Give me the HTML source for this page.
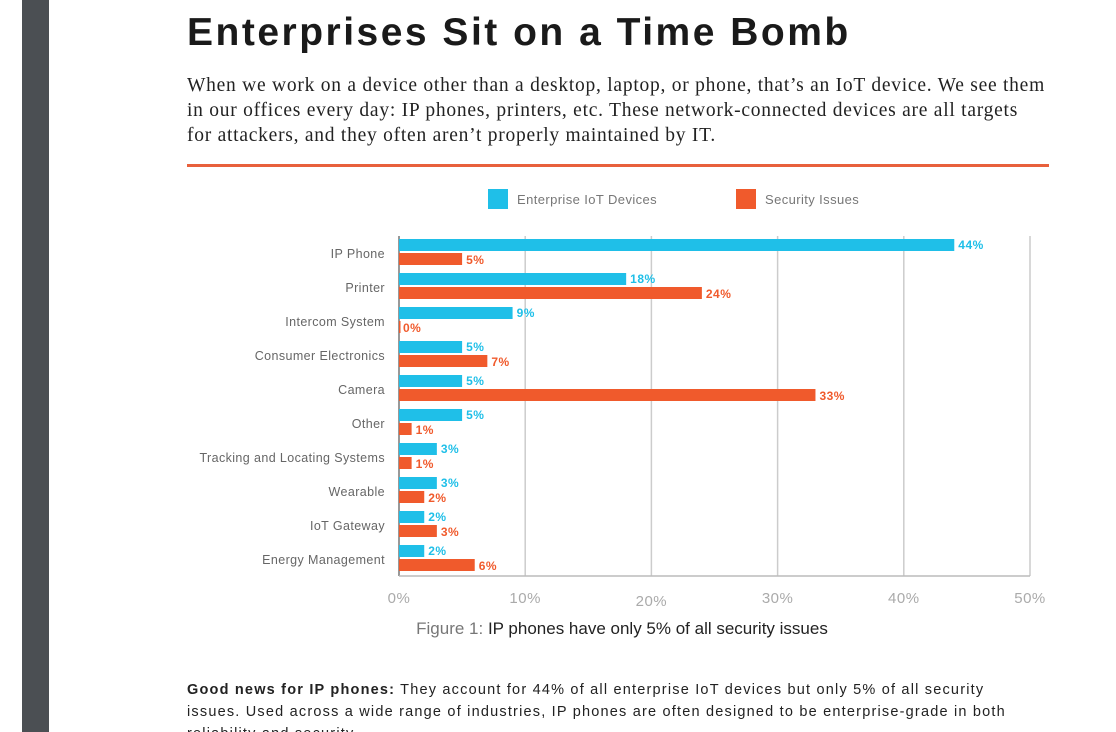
<!DOCTYPE html>
<html style="overflow:hidden;height:732px"><head><meta charset="utf-8"><style>
body{margin:0;width:1116px;height:732px;overflow:hidden;background:#fff;position:relative;font-family:"Liberation Sans",sans-serif}
.strip{position:absolute;left:22px;top:0;width:27px;height:732px;background:#4b4f53}
h1{position:absolute;left:187px;top:11px;margin:0;font-size:39px;font-weight:bold;color:#1a1a1a;letter-spacing:2.5px;white-space:nowrap}
.intro{position:absolute;left:187px;top:73px;font-family:"Liberation Serif",serif;font-size:19.5px;line-height:25px;color:#222;margin:0;white-space:nowrap;letter-spacing:0.75px}
.rule{position:absolute;left:187px;top:164px;width:862px;height:3px;background:#e8603c}
.caption{position:absolute;left:0;width:1244px;top:619px;text-align:center;font-size:17px;color:#222}
.body{position:absolute;left:187px;top:679px;font-size:14.5px;line-height:22px;color:#222;margin:0;white-space:nowrap;letter-spacing:1.2px}
</style></head><body>
<div class="strip"></div>
<h1>Enterprises Sit on a Time Bomb</h1>
<p class="intro">When we work on a device other than a desktop, laptop, or phone, that’s an IoT device. We see them<br>in our offices every day: IP phones, printers, etc. These network-connected devices are all targets<br>for attackers, and they often aren’t properly maintained by IT.</p>
<div class="rule"></div>
<svg id="chart" width="1116" height="732" style="position:absolute;left:0;top:0"></svg>
<div class="caption"><span style="color:#777">Figure 1: </span>IP phones have only 5% of all security issues</div>
<p class="body"><b>Good news for IP phones:</b> They account for 44% of all enterprise IoT devices but only 5% of all security<br>issues. Used across a wide range of industries, IP phones are often designed to be enterprise-grade in both<br>reliability and security.</p>
<script>
const categories=["IP Phone","Printer","Intercom System","Consumer Electronics","Camera","Other","Tracking and Locating Systems","Wearable","IoT Gateway","Energy Management"];
const devices=[44,18,9,5,5,5,3,3,2,2];
const issues=[5,24,0,7,33,1,1,2,3,6];
const ticks=[0,10,20,30,40,50];
const NS="http://www.w3.org/2000/svg";
const svg=document.getElementById('chart');
const X0=399,X1=1030,MAX=50,TOP=239,STEP=34,BH=12;
const x=v=>X0+(X1-X0)*v/MAX;
const yb=i=>TOP+i*STEP;
function mk(t,a){const e=document.createElementNS(NS,t);for(const k in a)e.setAttribute(k,a[k]);svg.appendChild(e);return e;}
ticks.forEach((t,i)=>{
 const g=mk('line',{x1:x(t),x2:x(t),y1:236,y2:576,stroke:i==0?'#999':'#ccc','stroke-width':i==0?2:1.5});
 
 
 const l=mk('text',{x:x(t),y:t==20?606:603,'text-anchor':'middle','font-size':15,fill:'#aaa','font-family':'Liberation Sans, sans-serif','letter-spacing':'0.5'});
 l.textContent=t+'%';
 
 
});
const base=mk('line',{x1:X0,x2:X1,y1:576,y2:576,stroke:'#bbb','stroke-width':1.5});


categories.forEach((c,i)=>{
 const y=yb(i);
 const cl=mk('text',{x:385,y:y+19,'text-anchor':'end','font-size':12.5,fill:'#666','font-family':'Liberation Sans, sans-serif','letter-spacing':'0.4'});
 cl.textContent=c;
 
 
 const b=mk('rect',{x:X0,y:y,width:Math.max(x(devices[i])-X0,0),height:BH,fill:'#1fbfe8'});
 
 
 const bt=mk('text',{x:x(devices[i])+4,y:y+10,'font-size':12,'font-weight':'bold',fill:'#1fbfe8','font-family':'Liberation Sans, sans-serif','letter-spacing':'0.5'});
 bt.textContent=devices[i]+'%';
 
 
 const r=mk('rect',{x:X0,y:y+14,width:Math.max(x(issues[i])-X0,1.5),height:BH,fill:'#f05a2c'});
 
 
 const rt=mk('text',{x:x(issues[i])+4,y:y+25,'font-size':12,'font-weight':'bold',fill:'#f05a2c','font-family':'Liberation Sans, sans-serif','letter-spacing':'0.5'});
 rt.textContent=issues[i]+'%';
 
 
});
const lg=[['#1fbfe8',488,'Enterprise IoT Devices'],['#f05a2c',736,'Security Issues']];
lg.forEach(l=>{
 const s=mk('rect',{x:l[1],y:189,width:20,height:20,fill:l[0]});
 
 
 const t=mk('text',{x:l[1]+29,y:204,'font-size':13,fill:'#777','font-family':'Liberation Sans, sans-serif','letter-spacing':'0.4'});
 t.textContent=l[2];
 
 
});
</script>
</body></html>
